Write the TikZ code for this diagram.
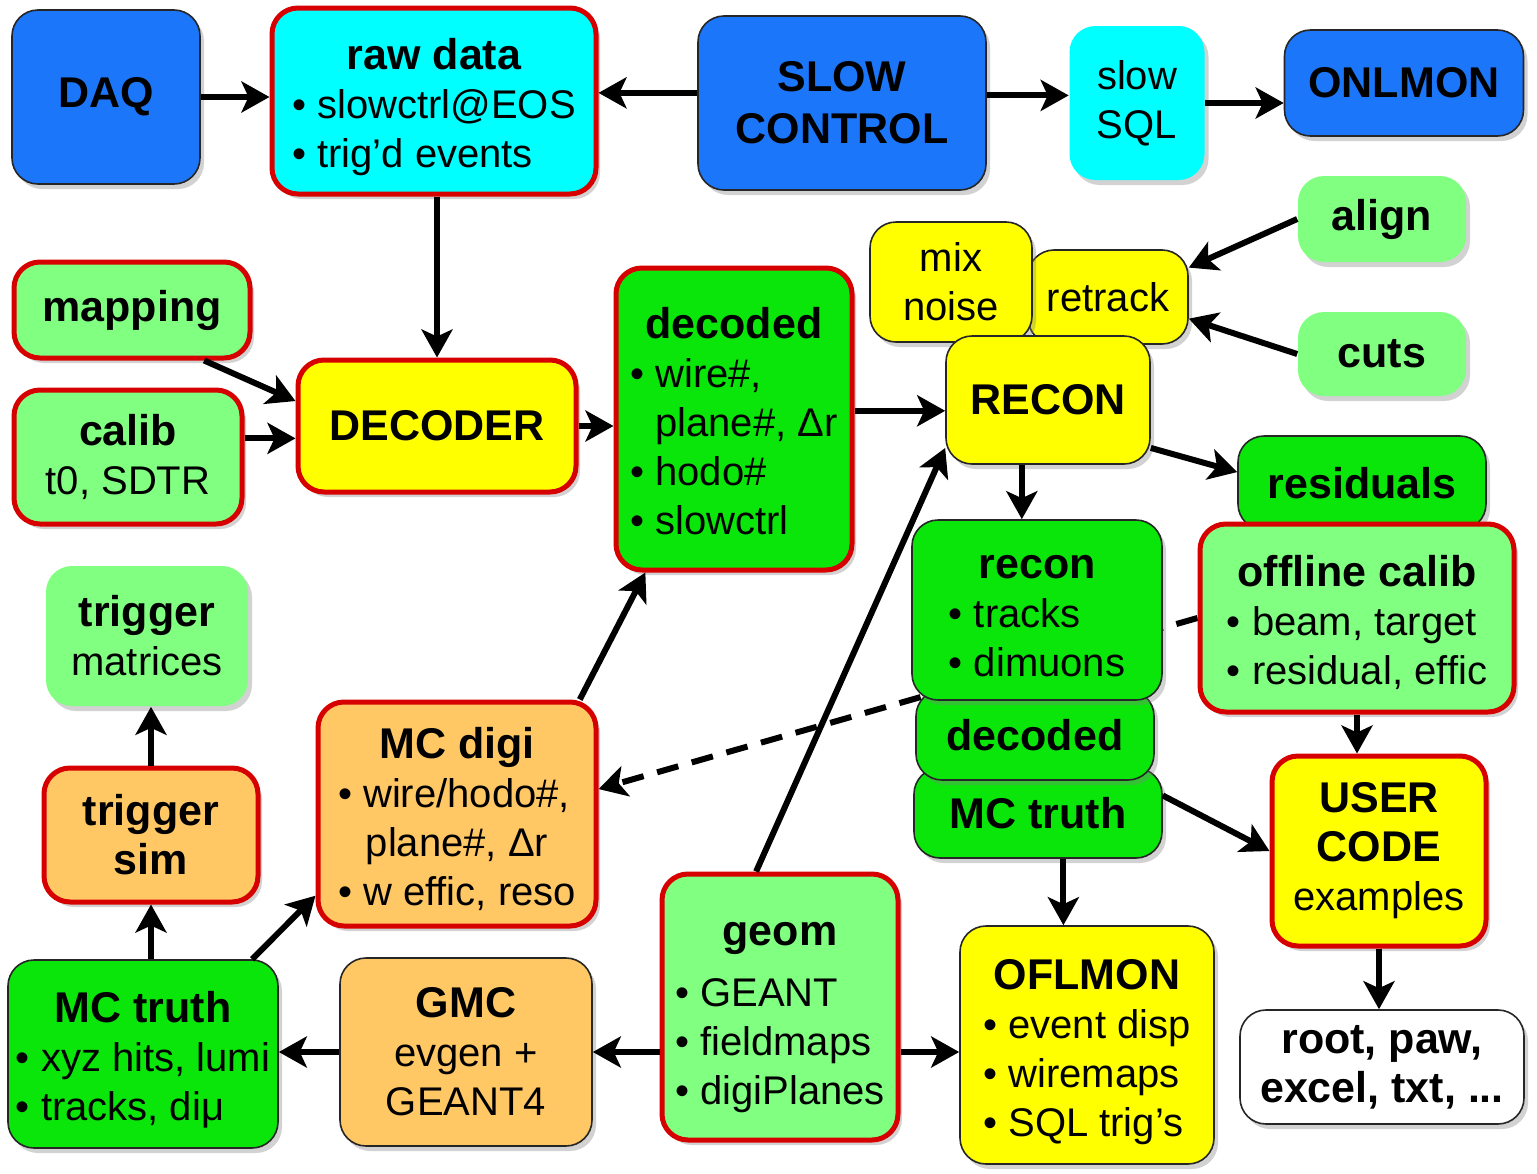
\documentclass[tikz,border=0pt]{standalone}
\usepackage{fontspec}
\setmainfont{Liberation Sans}
\usetikzlibrary{arrows.meta,shadows,calc,backgrounds}

\definecolor{blueC}{RGB}{28,118,250}
\definecolor{cyanC}{RGB}{0,255,255}
\definecolor{yellowC}{RGB}{255,255,0}
\definecolor{greenC}{RGB}{10,230,10}
\definecolor{lgreenC}{RGB}{128,255,128}
\definecolor{orangeC}{RGB}{255,200,100}
\definecolor{redC}{RGB}{215,0,0}

% bold box heading, centred heading row, bullet
\newcommand\boxtitle[1]{{\fontsize{43}{49}\selectfont\bfseries #1}}
\newcommand\ctitle[1]{\multicolumn{1}{@{}c@{}}{\boxtitle{#1}}}
\newcommand\crow[1]{\multicolumn{1}{@{}c@{}}{#1}}
\newcommand\bul{\textbullet\ }
\newcommand\ind{\phantom{\textbullet}\ }
% list block, set a little below the box centre
\newcommand\listblock[1]{\raisebox{-8pt}[\height][\depth]{\begin{tabular}{@{}l@{}}#1\end{tabular}}}

\begin{document}
\begin{tikzpicture}[x=1pt,y=-1pt,
  pbox/.style={rounded corners=26pt, draw=black!85, line width=1.6pt, inner sep=0pt,
    align=center, font=\fontsize{40}{49}\selectfont,
    drop shadow={opacity=0.35, shadow xshift=4pt, shadow yshift=-5pt}},
  rbox/.style={pbox, draw=redC, line width=5pt},
  nbox/.style={pbox, draw=none},
  arr/.style={line width=6pt, -{Stealth[length=28pt,width=31pt,inset=7pt]}},
  darr/.style={arr, dash pattern=on 22pt off 14pt}
]
\useasboundingbox (0,0) rectangle (1537,1173);

% ---- top row ----
\node[pbox, fill=blueC, minimum width=188pt, minimum height=174pt] (daq) at (106,97) {\boxtitle{DAQ}};
\node[rbox, fill=cyanC, minimum width=324pt, minimum height=186pt] (raw) at (434,101)
  {\listblock{\ctitle{raw data}\\ \bul slowctrl@EOS\\ \bul trig’d events}};
\node[pbox, fill=blueC, minimum width=288pt, minimum height=174pt] (slow) at (842,103)
  {\boxtitle{SLOW}\\[3pt]\boxtitle{CONTROL}};
\node[nbox, fill=cyanC, minimum width=135pt, minimum height=154pt] (sql) at (1137,103) {slow\\SQL};
\node[pbox, fill=blueC, minimum width=239pt, minimum height=106pt] (onl) at (1404,83) {\boxtitle{ONLMON}};

% ---- reconstruction inputs ----
\node[nbox, fill=lgreenC, minimum width=168pt, minimum height=86pt] (align) at (1382,219) {\boxtitle{align}};
\node[nbox, fill=lgreenC, minimum width=168pt, minimum height=84pt] (cuts) at (1382,354) {\boxtitle{cuts}};
\node[pbox, fill=yellowC, minimum width=160pt, minimum height=94pt] (retr) at (1108,297) {retrack};
\node[pbox, fill=yellowC, minimum width=162pt, minimum height=120pt] (mix) at (951,282) {mix\\noise};
\node[pbox, fill=yellowC, minimum width=204pt, minimum height=128pt] (recon) at (1048,400) {\boxtitle{RECON}};

% ---- decoding ----
\node[rbox, fill=lgreenC, minimum width=236pt, minimum height=96pt] (map) at (132,310) {\boxtitle{mapping}};
\node[rbox, fill=lgreenC, minimum width=228pt, minimum height=134pt] (cal) at (128,457) {\boxtitle{calib}\\t0, SDTR};
\node[rbox, fill=yellowC, minimum width=278pt, minimum height=132pt] (dec) at (437,426) {\boxtitle{DECODER}};
\node[rbox, fill=greenC, minimum width=236pt, minimum height=302pt] (decd) at (734,419)
  {\listblock{\ctitle{decoded}\\ \bul wire\#,\\ \ind plane\#, Δr\\ \bul hodo\#\\ \bul slowctrl}};

% ---- right column ----
\node[pbox, fill=greenC, minimum width=248pt, minimum height=94pt] (resid) at (1362,483) {\boxtitle{residuals}};
\node[rbox, fill=lgreenC, minimum width=314pt, minimum height=188pt] (offc) at (1357,618)
  {\listblock{\ctitle{offline calib}\\ \bul beam, target\\ \bul residual, effic}};
\node[pbox, fill=greenC, minimum width=248pt, minimum height=90pt] (mcs) at (1038,813) {\boxtitle{MC truth}};
\node[pbox, fill=greenC, minimum width=238pt, minimum height=90pt] (decs) at (1035,735) {\boxtitle{decoded}};
\node[pbox, fill=greenC, minimum width=250pt, minimum height=180pt] (rec) at (1037,610)
  {\listblock{\ctitle{recon}\\ \bul tracks\\ \bul dimuons}};
\node[rbox, fill=yellowC, minimum width=214pt, minimum height=190pt] (user) at (1379,851)
  {\boxtitle{USER}\\\boxtitle{CODE}\\examples};
\node[pbox, fill=yellowC, minimum width=254pt, minimum height=238pt] (ofl) at (1087,1045)
  {\listblock{\ctitle{OFLMON}\\ \bul event disp\\ \bul wiremaps\\ \bul SQL trig’s}};
\node[pbox, fill=white, minimum width=284pt, minimum height=114pt] (root) at (1382,1067)
  {\boxtitle{root, paw,}\\\boxtitle{excel, txt, ...}};

% ---- simulation ----
\node[nbox, fill=lgreenC, minimum width=202pt, minimum height=140pt] (trm) at (147,636) {\boxtitle{trigger}\\matrices};
\node[rbox, fill=orangeC, minimum width=214pt, minimum height=134pt] (trs) at (151,835) {\boxtitle{trigger}\\\boxtitle{sim}};
\node[rbox, fill=orangeC, minimum width=278pt, minimum height=224pt] (mcd) at (457,814)
  {\listblock{\ctitle{MC digi}\\ \bul wire/hodo\#,\\ \crow{plane\#, Δr}\\ \bul w effic, reso}};
\node[pbox, fill=greenC, minimum width=270pt, minimum height=188pt] (mct) at (143,1054)
  {\listblock{\ctitle{MC truth}\\ \bul xyz hits, lumi\\ \bul tracks, diμ}};
\node[pbox, fill=orangeC, minimum width=252pt, minimum height=188pt] (gmc) at (466,1052)
  {\boxtitle{GMC}\\evgen +\\GEANT4};
\node[rbox, fill=lgreenC, minimum width=236pt, minimum height=266pt] (geom) at (780,1007)
  {\listblock{\ctitle{geom}\\[12pt] \bul GEANT\\ \bul fieldmaps\\ \bul digiPlanes}};

% ---- page background and the dashed link, both behind the boxes ----
\begin{scope}[on background layer]
  \fill[white] (0,0) rectangle (1537,1173);
  \draw[darr] (offc.west) -- (mcd.10);
\end{scope}

% ---- connectors ----
\draw[arr] (daq.east) -- (daq.east -| raw.west);
\draw[arr] (slow.176) -- (slow.176 -| raw.east);
\draw[arr] (slow.3) -- (slow.3 -| sql.west);
\draw[arr] (sql.east) -- (sql.east -| onl.west);
\draw[arr] (dec.north |- raw.south) -- (dec.north);
\draw[arr] (map.-35) -- (dec.170);
\draw[arr] (cal.east |- dec.185) -- (dec.185);
\draw[arr] (dec.east) -- (dec.east -| decd.west);
\draw[arr] (decd.east |- recon.186) -- (recon.186);
\draw[arr] (align.west) -- (retr.20);
\draw[arr] (cuts.west) -- (retr.-15);
\draw[arr] (recon.-112) -- (recon.-112 |- rec.north);
\draw[arr] (recon.-25) -- (resid.175);
\draw[arr] (offc.south) -- (offc.south |- user.north);
\draw[arr] (mcs.8) -- (user.west);
\draw[arr] (mcs.-61) -- (mcs.-61 |- ofl.north);
\draw[arr] (user.south) -- (user.south |- root.north);
\draw[arr] (geom.100) -- (recon.205);
\draw[arr] (mcd.43) -- (decd.240);
\draw[arr] (trs.north) -- (trs.north |- trm.south);
\draw[arr] (trs.south |- mct.north) -- (trs.south);
\draw[arr] (mct.41) -- (mcd.210);
\draw[arr] (gmc.west) -- (gmc.west -| mct.east);
\draw[arr] (geom.west |- gmc.east) -- (gmc.east);
\draw[arr] (geom.east |- gmc.east) -- (ofl.west |- gmc.east);
\end{tikzpicture}
\end{document}
